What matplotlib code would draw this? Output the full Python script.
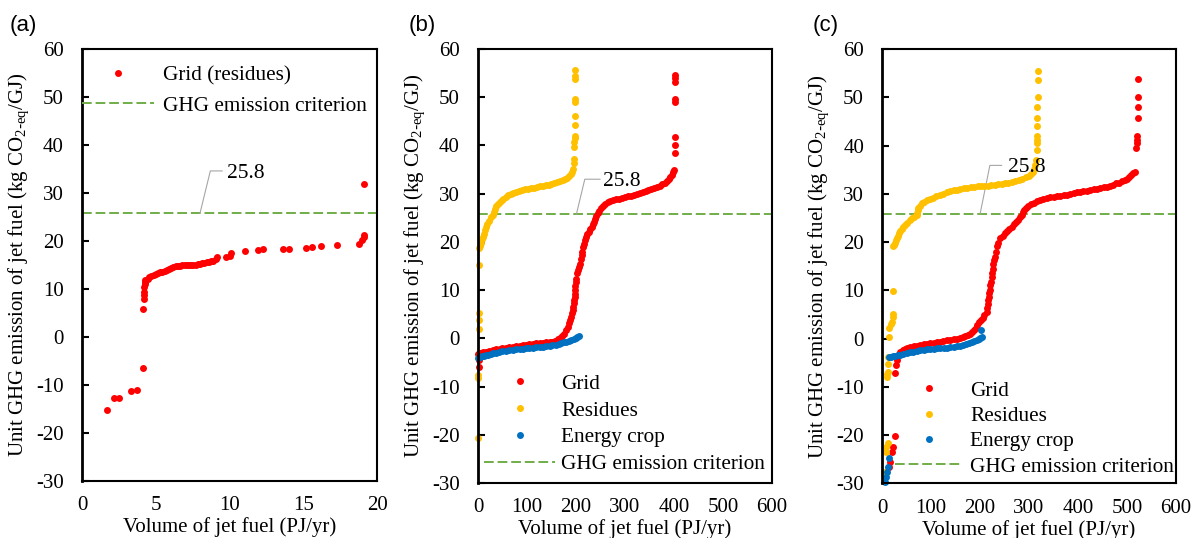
import matplotlib.pyplot as plt

plt.rcParams["font.family"] = ["Liberation Serif", "DejaVu Serif"]
plt.rcParams["font.size"] = 15
plt.rcParams["axes.unicode_minus"] = False

RED = "#FF0000"
YELLOW = "#FFC000"
BLUE = "#0070C0"
GREEN = "#70AD47"
CRITERION = 25.8

# (a) grid electricity, residues only
a_grid_x = [1.7, 2.15, 2.5, 3.3, 3.75, 4.16, 4.15, 4.2, 4.22, 4.2, 4.22, 4.25, 4.25, 4.3,
            4.45, 4.55, 4.7, 4.85, 5.0, 5.15, 5.3, 5.45, 5.6, 5.75, 5.9, 6.05, 6.2, 6.35,
            6.5, 6.65, 6.8, 6.95, 7.1, 7.25, 7.4, 7.55, 7.7, 7.85, 8.0, 8.15, 8.3, 8.45,
            8.6, 8.75, 8.9, 9.05, 9.17, 9.75, 10.05, 10.08, 11.05, 11.9, 12.25, 13.6, 14.05,
            15.2, 15.6, 16.2, 17.3, 18.8, 19.0, 19.1, 19.15, 19.15]
a_grid_y = [-15.2, -12.7, -12.7, -11.3, -11.0, -6.5, 5.9, 7.9, 8.7, 9.4, 10.4, 11.0, 11.5, 11.9,
            12.0, 12.5, 12.7, 12.9, 13.1, 13.3, 13.5, 13.6, 13.8, 14.0, 14.2, 14.4, 14.5, 14.7,
            14.8, 14.85, 14.9, 15.0, 15.0, 15.05, 15.1, 15.1, 15.1, 15.2, 15.3, 15.35, 15.5, 15.6,
            15.7, 15.8, 15.9, 16.2, 16.6, 16.7, 16.9, 17.6, 17.9, 18.1, 18.4, 18.4, 18.4,
            18.5, 18.7, 18.9, 19.2, 19.4, 20.2, 20.8, 21.2, 31.9]

# (b)
b_grid_x = [2, 2, 0, 5, 10, 16, 23, 30, 37, 44, 50, 57, 64, 71, 78, 85, 92, 99, 105, 112, 119,
            126, 132, 139, 146, 152, 158, 163, 167, 171, 176, 180, 183, 186, 188, 190, 192, 193,
            194, 195, 196, 197, 198, 198, 199, 200, 201, 203, 205, 206, 208, 210, 212, 213, 214,
            216, 218, 220, 223, 226, 229, 232, 235, 237, 239, 241, 244, 247, 251, 255, 260, 265,
            270, 276, 282, 288, 294, 300, 306, 312, 318, 324, 330, 336, 342, 348, 354, 360, 366,
            371, 376, 381, 385, 389, 392, 395, 398, 400, 402, 402, 402, 402, 402, 402, 402, 402]
b_grid_y = [-6.0, -4.5, -3.3, -3.1, -2.9, -2.8, -2.6, -2.45, -2.3, -2.2, -2.1, -1.95, -1.8, -1.7,
            -1.6, -1.5, -1.4, -1.3, -1.2, -1.1, -1.0, -0.95, -0.9, -0.85, -0.75, -0.7, -0.45, -0.2,
            0.1, 0.5, 1.0, 1.7, 2.4, 3.1, 3.8, 4.5, 5.2, 5.8, 6.6, 7.3, 7.9, 8.6, 9.3, 10.0, 10.8,
            11.7, 12.4, 13.5, 14.2, 14.8, 15.5, 16.4, 17.2, 18.0, 19.0, 19.6, 20.3, 21.1, 21.6,
            22.1, 22.6, 23.0, 23.7, 24.2, 24.8, 25.3, 25.9, 26.4, 27.1, 27.5, 27.9, 28.2, 28.45,
            28.65, 28.85, 29.0, 29.15, 29.3, 29.45, 29.6, 29.8, 30.0, 30.2, 30.4, 30.55, 30.7,
            30.9, 31.15, 31.4, 31.65, 31.95, 32.3, 32.6, 33.0, 33.4, 33.9, 34.5, 34.9, 38.4, 40.1,
            41.7, 49.1, 49.6, 53.2, 53.9, 54.6]
b_res_x = [0, 0, 0, 2, 2, 2, 3, 3, 4, 6, 8, 10, 12, 14, 16, 19, 22, 26, 30, 33, 35, 37, 40, 44,
           48, 52, 57, 62, 67, 72, 78, 84, 90, 96, 102, 108, 114, 120, 126, 132, 138, 144, 150,
           156, 162, 168, 173, 178, 182, 186, 189, 192, 194, 195, 196, 196, 196, 197, 197, 198,
           198, 198, 198, 198, 198, 198]
b_res_y = [-20.6, -8.3, -7.6, 2.0, 3.9, 5.2, 15.2, 18.7, 19.2, 19.8, 20.5, 21.1, 21.7, 22.4,
           23.1, 23.7, 24.3, 25.1, 25.6, 26.2, 26.8, 27.4, 27.9, 28.3, 28.7, 29.0, 29.4, 29.7,
           29.95, 30.15, 30.35, 30.55, 30.75, 30.9, 31.0, 31.15, 31.25, 31.35, 31.5, 31.6, 31.75,
           31.9, 32.05, 32.2, 32.4, 32.6, 32.8, 33.1, 33.35, 33.6, 34.0, 34.5, 35.2, 36.3, 37.1,
           39.7, 40.8, 41.5, 42.0, 44.2, 46.1, 49.1, 49.6, 53.8, 54.4, 55.6]
b_crop_x = [0, 4, 8, 12, 16, 21, 26, 31, 37, 43, 50, 57, 64, 71, 78, 85, 92, 98, 105, 112, 119,
            126, 132, 139, 146, 152, 159, 165, 170, 175, 180, 185, 190, 195, 200, 203, 206]
b_crop_y = [-4.0, -3.9, -3.75, -3.6, -3.5, -3.4, -3.25, -3.1, -3.0, -2.85, -2.7, -2.55, -2.45,
            -2.35, -2.3, -2.2, -2.15, -2.1, -2.0, -1.95, -1.85, -1.8, -1.75, -1.65, -1.55, -1.45,
            -1.3, -1.15, -1.0, -0.85, -0.7, -0.55, -0.35, -0.15, 0.05, 0.2, 0.4]

# (c)
c_grid_x = [15, 16, 20, 22, 27, 27, 29, 30, 33, 37, 42, 47, 51, 58, 65, 72, 78, 85, 92, 98, 105,
            112, 119, 125, 132, 139, 146, 152, 159, 165, 170, 175, 180, 184, 188, 191, 194, 197,
            201, 205, 209, 214, 215, 216, 217, 218, 219, 220, 221, 222, 224, 225, 226, 227, 229,
            231, 233, 234, 237, 241, 246, 251, 256, 260, 265, 270, 274, 278, 282, 286, 288, 290,
            293, 298, 304, 310, 316, 322, 329, 336, 343, 350, 357, 364, 371, 377, 384, 391, 398,
            404, 411, 418, 425, 432, 438, 445, 452, 459, 466, 472, 478, 484, 490, 495, 500, 505,
            509, 513, 516, 519, 520, 521, 521, 522, 522, 522, 523]
c_grid_y = [-26.6, -25.5, -23.5, -22.4, -20.3, -7.2, -5.5, -4.4, -3.4, -2.7, -2.4, -2.15, -2.0,
            -1.8, -1.6, -1.45, -1.3, -1.2, -1.05, -0.95, -0.85, -0.75, -0.65, -0.5, -0.4, -0.3,
            -0.15, -0.05, 0.1, 0.3, 0.5, 0.7, 0.9, 1.3, 1.7, 2.2, 2.8, 3.5, 3.9, 4.3, 4.8, 5.6,
            6.4, 7.2, 8.0, 8.7, 9.4, 10.1, 11.0, 11.8, 12.8, 13.6, 14.5, 15.4, 16.2, 17.0, 18.0,
            19.1, 19.9, 20.8, 21.3, 21.8, 22.3, 22.7, 23.2, 23.7, 24.2, 24.6, 25.1, 25.6, 26.2,
            26.7, 27.1, 27.5, 27.8, 28.15, 28.45, 28.75, 28.95, 29.15, 29.3, 29.4, 29.55, 29.65,
            29.75, 29.85, 30.0, 30.15, 30.3, 30.4, 30.5, 30.65, 30.8, 30.95, 31.1, 31.2, 31.35,
            31.5, 31.7, 31.9, 32.15, 32.35, 32.6, 32.85, 33.1, 33.5, 33.9, 34.3, 34.6, 39.5,
            40.5, 41.2, 42.0, 45.7, 48.1, 50.0, 53.8]
c_res_x = [4, 8, 9, 13, 10, 11, 13, 13, 13, 15, 15, 18, 20, 22, 23, 23, 23, 25, 27, 29, 31, 33,
           35, 37, 40, 43, 47, 51, 56, 61, 66, 71, 72, 73, 74, 77, 81, 86, 92, 98, 104, 111, 118,
           125, 132, 139, 146, 153, 160, 167, 174, 181, 188, 195, 202, 209, 216, 223, 230, 237,
           244, 251, 258, 265, 272, 279, 286, 293, 299, 304, 308, 311, 313, 314, 316, 316, 317,
           317, 317, 317, 317, 318, 318, 318]
c_res_y = [-27.6, -23.5, -22.5, -21.7, -7.9, -7.3, -6.9, -5.2, -3.9, 0.3, 2.1, 3.0, 3.5, 4.55,
           5.0, 9.9, 19.1, 19.4, 19.9, 20.4, 20.9, 21.3, 21.8, 22.2, 22.7, 23.1, 23.6, 24.0, 24.5,
           25.0, 25.3, 25.6, 26.1, 26.6, 27.0, 27.5, 28.1, 28.4, 28.65, 28.9, 29.2, 29.5, 29.8,
           30.05, 30.3, 30.5, 30.7, 30.85, 31.0, 31.15, 31.3, 31.4, 31.5, 31.55, 31.6, 31.65,
           31.7, 31.8, 31.9, 32.0, 32.05, 32.2, 32.35, 32.5, 32.65, 32.85, 33.1, 33.4, 33.7,
           34.1, 34.5, 35.2, 36.0, 37.0, 39.1, 40.5, 41.2, 41.9, 44.1, 45.7, 48.1, 50.1, 53.7,
           55.4]
c_crop_x = [6, 8, 10, 13, 15, 15, 19, 23, 27, 32, 37, 43, 50, 57, 64, 71, 78, 85, 92, 98, 105,
            112, 119, 126, 132, 139, 146, 152, 159, 166, 172, 178, 183, 188, 193, 197, 200, 203,
            201]
c_crop_y = [-29.7, -28.6, -27.6, -26.6, -24.8, -3.9, -3.75, -3.65, -3.55, -3.45, -3.35, -3.2,
            -3.0, -2.85, -2.7, -2.55, -2.45, -2.35, -2.25, -2.2, -2.1, -2.05, -2.0, -1.95, -1.9,
            -1.8, -1.7, -1.6, -1.45, -1.3, -1.1, -0.9, -0.7, -0.5, -0.3, -0.1, 0.1, 0.3, 1.8]

ylabel = r"Unit GHG emission of jet fuel (kg CO$_{\mathregular{2}\text{-}\mathregular{eq}}$/GJ)"
xlabel = "Volume of jet fuel (PJ/yr)"

fig = plt.figure(figsize=(11.92, 5.38), dpi=100)
ax_a = fig.add_axes([0.0688, 0.1059, 0.2475, 0.803])
ax_b = fig.add_axes([0.401, 0.1022, 0.2466, 0.8067])
ax_c = fig.add_axes([0.740, 0.1017, 0.2466, 0.807])

ms = 5.0


def style(ax, xmax, xstep):
    ax.set_xlim(0, xmax)
    ax.set_ylim(-30, 60)
    ax.set_xticks(range(0, xmax + 1, xstep))
    ax.set_yticks(range(-30, 61, 10))
    ax.tick_params(axis="y", direction="in", length=5, width=1.5, pad=13, labelsize=15)
    ax.tick_params(axis="x", length=0, pad=11, labelsize=15)
    for s in ax.spines.values():
        s.set_linewidth(1.5)
    ax.spines["left"].set_linewidth(2)
    ax.set_xlabel(xlabel, fontsize=15, labelpad=1.5)
    ax.set_ylabel(ylabel, fontsize=15, labelpad=3)


def leader(ax, x0, x1, x2, yline, xtext, ytext):
    ax.plot([x0, x1, x2], [CRITERION, yline, yline], color="#A6A6A6", lw=0.8, zorder=1)
    ax.text(xtext, ytext, "25.8", fontsize=15.5, va="center", ha="left")


dash = dict(color=GREEN, lw=1.4, ls=(0, (5, 2)))
leg = dict(frameon=False, fontsize=15.3, borderaxespad=0, borderpad=0, numpoints=1)

# (a)
ax_a.plot(a_grid_x, a_grid_y, "o", color=RED, ms=ms, mew=0, label="Grid (residues)")
ax_a.axhline(CRITERION, label="GHG emission criterion", zorder=1, **dash)
style(ax_a, 20, 5)
leader(ax_a, 8.0, 8.7, 9.5, 34.6, 9.8, 34.0)
ax_a.legend(loc="upper left", bbox_to_anchor=(0.0, 0.962), handlelength=3.4,
            handletextpad=0.4, labelspacing=0.5, **leg)

# (b), (c)
for ax, gx, gy, rx, ry, cx, cy in [
    (ax_b, b_grid_x, b_grid_y, b_res_x, b_res_y, b_crop_x, b_crop_y),
    (ax_c, c_grid_x, c_grid_y, c_res_x, c_res_y, c_crop_x, c_crop_y),
]:
    ax.plot(gx, gy, "o", color=RED, ms=ms, mew=0, label="Grid", clip_on=False)
    ax.plot(rx, ry, "o", color=YELLOW, ms=ms, mew=0, label="Residues", clip_on=False)
    ax.plot(cx, cy, "o", color=BLUE, ms=ms, mew=0, label="Energy crop", clip_on=False)
    ax.axhline(CRITERION, label="GHG emission criterion", zorder=1, **dash)
    style(ax, 600, 100)

leader(ax_b, 201, 218, 249, 33.0, 256, 32.6)
leader(ax_c, 200, 220, 244, 35.9, 257, 35.4)

ax_b.legend(loc="lower left", bbox_to_anchor=(0.022, 0.02), handlelength=3.3,
            handletextpad=0.3, labelspacing=0.33, **leg)
ax_c.legend(loc="lower left", bbox_to_anchor=(0.044, 0.015), handlelength=3.2,
            handletextpad=0.35, labelspacing=0.26, **leg)

for x, lab in [(10, "(a)"), (409, "(b)"), (813, "(c)")]:
    fig.text(x / 1192, 1 - 26 / 538, lab, fontsize=16, family="Liberation Sans", va="center")

fig.savefig("out.png", dpi=100)
